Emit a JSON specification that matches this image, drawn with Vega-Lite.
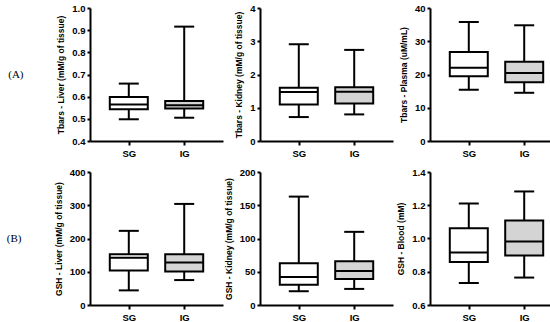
{
  "$schema": "https://vega.github.io/schema/vega-lite/v6.json",
  "padding": {"left": 6, "top": 3, "right": 2, "bottom": 2},
  "background": "white",
  "data": {"values": [
    {"p": 1, "g": "SG", "lo": 0.498, "q1": 0.543, "med": 0.565, "q3": 0.598, "hi": 0.659},
    {"p": 1, "g": "IG", "lo": 0.505, "q1": 0.547, "med": 0.561, "q3": 0.58, "hi": 0.916},
    {"p": 2, "g": "SG", "lo": 0.72, "q1": 1.1, "med": 1.47, "q3": 1.6, "hi": 2.91},
    {"p": 2, "g": "IG", "lo": 0.8, "q1": 1.13, "med": 1.48, "q3": 1.62, "hi": 2.74},
    {"p": 3, "g": "SG", "lo": 15.4, "q1": 19.45, "med": 22.0, "q3": 26.8, "hi": 35.8},
    {"p": 3, "g": "IG", "lo": 14.5, "q1": 17.7, "med": 20.45, "q3": 23.8, "hi": 34.8},
    {"p": 4, "g": "SG", "lo": 44, "q1": 104, "med": 142, "q3": 153, "hi": 223},
    {"p": 4, "g": "IG", "lo": 75, "q1": 101, "med": 128, "q3": 153, "hi": 304},
    {"p": 5, "g": "SG", "lo": 20.7, "q1": 30.3, "med": 42, "q3": 62.6, "hi": 163},
    {"p": 5, "g": "IG", "lo": 24.2, "q1": 39, "med": 51, "q3": 65.7, "hi": 110},
    {"p": 6, "g": "SG", "lo": 0.733, "q1": 0.859, "med": 0.916, "q3": 1.062, "hi": 1.211},
    {"p": 6, "g": "IG", "lo": 0.765, "q1": 0.897, "med": 0.982, "q3": 1.109, "hi": 1.283}
  ]},
  "columns": 3,
  "bounds": "flush",
  "spacing": {"row": 31, "column": 37},
  "concat": [
    {
      "width": 133, "height": 133,
      "title": {"text": "(A)", "orient": "left", "angle": 0, "align": "right", "baseline": "middle", "offset": 18, "font": "Liberation Serif", "fontSize": 11, "fontWeight": "normal", "anchor": "middle", "color": "black"},
      "transform": [{"filter": "datum.p == 1"}],
      "encoding": {"x": {"field": "g", "type": "nominal", "sort": ["SG", "IG"], "scale": {"type": "point", "padding": 0.7}, "axis": {"title": null, "labelAngle": 0}}},
      "layer": [
        {"mark": {"type": "rule", "color": "black", "strokeWidth": 2},
         "encoding": {"y": {"field": "lo", "type": "quantitative", "scale": {"domain": [0.4, 1.0], "nice": false, "zero": false}, "title": "Tbars - Liver (mM/g of tissue)", "axis": {"values": [0.4, 0.5, 0.6, 0.7, 0.8, 0.9, 1.0], "format": ".1f"}}, "y2": {"field": "hi"}}},
        {"transform": [{"fold": ["lo", "hi"], "as": ["k", "v"]}], "mark": {"type": "tick", "color": "black", "opacity": 1, "thickness": 2, "size": 20},
         "encoding": {"y": {"field": "v", "type": "quantitative", "scale": {"domain": [0.4, 1.0], "nice": false, "zero": false}, "title": "Tbars - Liver (mM/g of tissue)", "axis": {"values": [0.4, 0.5, 0.6, 0.7, 0.8, 0.9, 1.0], "format": ".1f"}}}},
        {"mark": {"type": "bar", "size": 38, "stroke": "black", "strokeWidth": 2, "opacity": 1},
         "encoding": {"y": {"field": "q1", "type": "quantitative", "scale": {"domain": [0.4, 1.0], "nice": false, "zero": false}, "title": "Tbars - Liver (mM/g of tissue)", "axis": {"values": [0.4, 0.5, 0.6, 0.7, 0.8, 0.9, 1.0], "format": ".1f"}}, "y2": {"field": "q3"}, "fill": {"field": "g", "type": "nominal", "scale": {"domain": ["SG", "IG"], "range": ["white", "#d4d4d4"]}, "legend": null}}},
        {"mark": {"type": "tick", "color": "black", "opacity": 1, "thickness": 2, "size": 38},
         "encoding": {"y": {"field": "med", "type": "quantitative", "scale": {"domain": [0.4, 1.0], "nice": false, "zero": false}, "title": "Tbars - Liver (mM/g of tissue)", "axis": {"values": [0.4, 0.5, 0.6, 0.7, 0.8, 0.9, 1.0], "format": ".1f"}}}}
      ]
    },
    {
      "width": 133, "height": 133,
      "transform": [{"filter": "datum.p == 2"}],
      "encoding": {"x": {"field": "g", "type": "nominal", "sort": ["SG", "IG"], "scale": {"type": "point", "padding": 0.7}, "axis": {"title": null, "labelAngle": 0}}},
      "layer": [
        {"mark": {"type": "rule", "color": "black", "strokeWidth": 2},
         "encoding": {"y": {"field": "lo", "type": "quantitative", "scale": {"domain": [0, 4], "nice": false, "zero": false}, "title": "Tbars - Kidney (mM/g of tissue)", "axis": {"values": [0, 1, 2, 3, 4], "format": "d"}}, "y2": {"field": "hi"}}},
        {"transform": [{"fold": ["lo", "hi"], "as": ["k", "v"]}], "mark": {"type": "tick", "color": "black", "opacity": 1, "thickness": 2, "size": 20},
         "encoding": {"y": {"field": "v", "type": "quantitative", "scale": {"domain": [0, 4], "nice": false, "zero": false}, "title": "Tbars - Kidney (mM/g of tissue)", "axis": {"values": [0, 1, 2, 3, 4], "format": "d"}}}},
        {"mark": {"type": "bar", "size": 38, "stroke": "black", "strokeWidth": 2, "opacity": 1},
         "encoding": {"y": {"field": "q1", "type": "quantitative", "scale": {"domain": [0, 4], "nice": false, "zero": false}, "title": "Tbars - Kidney (mM/g of tissue)", "axis": {"values": [0, 1, 2, 3, 4], "format": "d"}}, "y2": {"field": "q3"}, "fill": {"field": "g", "type": "nominal", "scale": {"domain": ["SG", "IG"], "range": ["white", "#d4d4d4"]}, "legend": null}}},
        {"mark": {"type": "tick", "color": "black", "opacity": 1, "thickness": 2, "size": 38},
         "encoding": {"y": {"field": "med", "type": "quantitative", "scale": {"domain": [0, 4], "nice": false, "zero": false}, "title": "Tbars - Kidney (mM/g of tissue)", "axis": {"values": [0, 1, 2, 3, 4], "format": "d"}}}}
      ]
    },
    {
      "width": 133, "height": 133,
      "transform": [{"filter": "datum.p == 3"}],
      "encoding": {"x": {"field": "g", "type": "nominal", "sort": ["SG", "IG"], "scale": {"type": "point", "padding": 0.7}, "axis": {"title": null, "labelAngle": 0}}},
      "layer": [
        {"mark": {"type": "rule", "color": "black", "strokeWidth": 2},
         "encoding": {"y": {"field": "lo", "type": "quantitative", "scale": {"domain": [0, 40], "nice": false, "zero": false}, "title": "Tbars - Plasma (uM/mL)", "axis": {"values": [0, 10, 20, 30, 40], "format": "d"}}, "y2": {"field": "hi"}}},
        {"transform": [{"fold": ["lo", "hi"], "as": ["k", "v"]}], "mark": {"type": "tick", "color": "black", "opacity": 1, "thickness": 2, "size": 20},
         "encoding": {"y": {"field": "v", "type": "quantitative", "scale": {"domain": [0, 40], "nice": false, "zero": false}, "title": "Tbars - Plasma (uM/mL)", "axis": {"values": [0, 10, 20, 30, 40], "format": "d"}}}},
        {"mark": {"type": "bar", "size": 38, "stroke": "black", "strokeWidth": 2, "opacity": 1},
         "encoding": {"y": {"field": "q1", "type": "quantitative", "scale": {"domain": [0, 40], "nice": false, "zero": false}, "title": "Tbars - Plasma (uM/mL)", "axis": {"values": [0, 10, 20, 30, 40], "format": "d"}}, "y2": {"field": "q3"}, "fill": {"field": "g", "type": "nominal", "scale": {"domain": ["SG", "IG"], "range": ["white", "#d4d4d4"]}, "legend": null}}},
        {"mark": {"type": "tick", "color": "black", "opacity": 1, "thickness": 2, "size": 38},
         "encoding": {"y": {"field": "med", "type": "quantitative", "scale": {"domain": [0, 40], "nice": false, "zero": false}, "title": "Tbars - Plasma (uM/mL)", "axis": {"values": [0, 10, 20, 30, 40], "format": "d"}}}}
      ]
    },
    {
      "width": 133, "height": 133,
      "title": {"text": "(B)", "orient": "left", "angle": 0, "align": "right", "baseline": "middle", "offset": 18, "font": "Liberation Serif", "fontSize": 11, "fontWeight": "normal", "anchor": "middle", "color": "black"},
      "transform": [{"filter": "datum.p == 4"}],
      "encoding": {"x": {"field": "g", "type": "nominal", "sort": ["SG", "IG"], "scale": {"type": "point", "padding": 0.7}, "axis": {"title": null, "labelAngle": 0}}},
      "layer": [
        {"mark": {"type": "rule", "color": "black", "strokeWidth": 2},
         "encoding": {"y": {"field": "lo", "type": "quantitative", "scale": {"domain": [0, 400], "nice": false, "zero": false}, "title": "GSH - Liver (mM/g of tissue)", "axis": {"values": [0, 100, 200, 300, 400], "format": "d"}}, "y2": {"field": "hi"}}},
        {"transform": [{"fold": ["lo", "hi"], "as": ["k", "v"]}], "mark": {"type": "tick", "color": "black", "opacity": 1, "thickness": 2, "size": 20},
         "encoding": {"y": {"field": "v", "type": "quantitative", "scale": {"domain": [0, 400], "nice": false, "zero": false}, "title": "GSH - Liver (mM/g of tissue)", "axis": {"values": [0, 100, 200, 300, 400], "format": "d"}}}},
        {"mark": {"type": "bar", "size": 38, "stroke": "black", "strokeWidth": 2, "opacity": 1},
         "encoding": {"y": {"field": "q1", "type": "quantitative", "scale": {"domain": [0, 400], "nice": false, "zero": false}, "title": "GSH - Liver (mM/g of tissue)", "axis": {"values": [0, 100, 200, 300, 400], "format": "d"}}, "y2": {"field": "q3"}, "fill": {"field": "g", "type": "nominal", "scale": {"domain": ["SG", "IG"], "range": ["white", "#d4d4d4"]}, "legend": null}}},
        {"mark": {"type": "tick", "color": "black", "opacity": 1, "thickness": 2, "size": 38},
         "encoding": {"y": {"field": "med", "type": "quantitative", "scale": {"domain": [0, 400], "nice": false, "zero": false}, "title": "GSH - Liver (mM/g of tissue)", "axis": {"values": [0, 100, 200, 300, 400], "format": "d"}}}}
      ]
    },
    {
      "width": 133, "height": 133,
      "transform": [{"filter": "datum.p == 5"}],
      "encoding": {"x": {"field": "g", "type": "nominal", "sort": ["SG", "IG"], "scale": {"type": "point", "padding": 0.7}, "axis": {"title": null, "labelAngle": 0}}},
      "layer": [
        {"mark": {"type": "rule", "color": "black", "strokeWidth": 2},
         "encoding": {"y": {"field": "lo", "type": "quantitative", "scale": {"domain": [0, 200], "nice": false, "zero": false}, "title": "GSH - Kidney (mM/g of tissue)", "axis": {"values": [0, 50, 100, 150, 200], "format": "d"}}, "y2": {"field": "hi"}}},
        {"transform": [{"fold": ["lo", "hi"], "as": ["k", "v"]}], "mark": {"type": "tick", "color": "black", "opacity": 1, "thickness": 2, "size": 20},
         "encoding": {"y": {"field": "v", "type": "quantitative", "scale": {"domain": [0, 200], "nice": false, "zero": false}, "title": "GSH - Kidney (mM/g of tissue)", "axis": {"values": [0, 50, 100, 150, 200], "format": "d"}}}},
        {"mark": {"type": "bar", "size": 38, "stroke": "black", "strokeWidth": 2, "opacity": 1},
         "encoding": {"y": {"field": "q1", "type": "quantitative", "scale": {"domain": [0, 200], "nice": false, "zero": false}, "title": "GSH - Kidney (mM/g of tissue)", "axis": {"values": [0, 50, 100, 150, 200], "format": "d"}}, "y2": {"field": "q3"}, "fill": {"field": "g", "type": "nominal", "scale": {"domain": ["SG", "IG"], "range": ["white", "#d4d4d4"]}, "legend": null}}},
        {"mark": {"type": "tick", "color": "black", "opacity": 1, "thickness": 2, "size": 38},
         "encoding": {"y": {"field": "med", "type": "quantitative", "scale": {"domain": [0, 200], "nice": false, "zero": false}, "title": "GSH - Kidney (mM/g of tissue)", "axis": {"values": [0, 50, 100, 150, 200], "format": "d"}}}}
      ]
    },
    {
      "width": 133, "height": 133,
      "transform": [{"filter": "datum.p == 6"}],
      "encoding": {"x": {"field": "g", "type": "nominal", "sort": ["SG", "IG"], "scale": {"type": "point", "padding": 0.7}, "axis": {"title": null, "labelAngle": 0}}},
      "layer": [
        {"mark": {"type": "rule", "color": "black", "strokeWidth": 2},
         "encoding": {"y": {"field": "lo", "type": "quantitative", "scale": {"domain": [0.6, 1.4], "nice": false, "zero": false}, "title": "GSH - Blood (mM)", "axis": {"values": [0.6, 0.8, 1.0, 1.2, 1.4], "format": ".1f"}}, "y2": {"field": "hi"}}},
        {"transform": [{"fold": ["lo", "hi"], "as": ["k", "v"]}], "mark": {"type": "tick", "color": "black", "opacity": 1, "thickness": 2, "size": 20},
         "encoding": {"y": {"field": "v", "type": "quantitative", "scale": {"domain": [0.6, 1.4], "nice": false, "zero": false}, "title": "GSH - Blood (mM)", "axis": {"values": [0.6, 0.8, 1.0, 1.2, 1.4], "format": ".1f"}}}},
        {"mark": {"type": "bar", "size": 38, "stroke": "black", "strokeWidth": 2, "opacity": 1},
         "encoding": {"y": {"field": "q1", "type": "quantitative", "scale": {"domain": [0.6, 1.4], "nice": false, "zero": false}, "title": "GSH - Blood (mM)", "axis": {"values": [0.6, 0.8, 1.0, 1.2, 1.4], "format": ".1f"}}, "y2": {"field": "q3"}, "fill": {"field": "g", "type": "nominal", "scale": {"domain": ["SG", "IG"], "range": ["white", "#d4d4d4"]}, "legend": null}}},
        {"mark": {"type": "tick", "color": "black", "opacity": 1, "thickness": 2, "size": 38},
         "encoding": {"y": {"field": "med", "type": "quantitative", "scale": {"domain": [0.6, 1.4], "nice": false, "zero": false}, "title": "GSH - Blood (mM)", "axis": {"values": [0.6, 0.8, 1.0, 1.2, 1.4], "format": ".1f"}}}}
      ]
    }
  ],
  "config": {
    "view": {"stroke": null},
    "axis": {"domainColor": "black", "domainWidth": 2, "tickColor": "black", "tickWidth": 2, "tickSize": 4, "labelColor": "black", "labelFont": "Liberation Sans", "labelFontWeight": "bold", "labelFontSize": 9.5, "titleFont": "Liberation Sans", "titleFontWeight": "bold", "titleFontSize": 8.5, "titleColor": "black", "grid": false},
    "axisX": {"labelFontSize": 9.5, "labelPadding": 3},
    "axisY": {"titlePadding": 6, "tickSize": 3, "labelPadding": 2}
  }
}
